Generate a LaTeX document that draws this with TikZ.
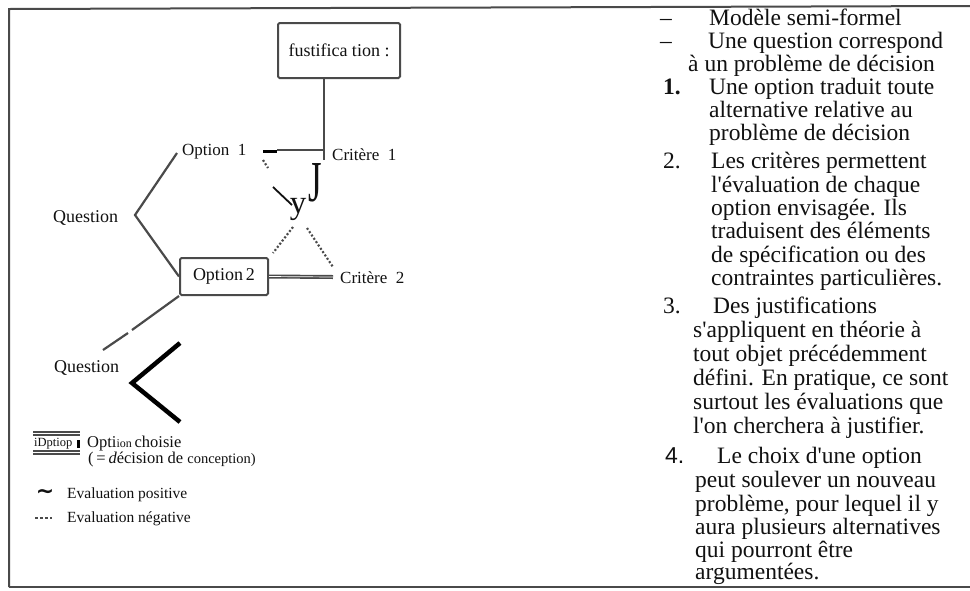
\documentclass[tikz,border=0pt]{standalone}
\usepackage{fontspec}
\setmainfont{Liberation Serif}[Ligatures=TeXOff]
\newfontfamily\sansf{Liberation Sans}
\newfontfamily\dejavu{DejaVu Sans}
\usepackage{graphicx}
\definecolor{lgray}{HTML}{4A4A4A}
\definecolor{ink}{HTML}{111111}
\begin{document}
\begin{tikzpicture}[x=1pt,y=-1pt,
  ln/.style={draw=lgray, line width=2.2pt},
  frame/.style={draw=lgray, line width=2pt},
  dotl/.style={draw=lgray, line width=2.2pt, dash pattern=on 2pt off 2pt},
  boxn/.style={draw=lgray, line width=2pt, rounded corners=1.5pt, inner sep=0pt, font=\fontsize{18}{18}\selectfont, text=ink},
  lbl/.style={font=\fontsize{17}{17}\selectfont, inner sep=0pt, anchor=base west, text=ink},
  lg/.style={font=\fontsize{15.5}{15.5}\selectfont, inner sep=0pt, anchor=base west, text=ink},
  rt/.style={font=\fontsize{23.5}{23.5}\selectfont, inner sep=0pt, anchor=base west, text=ink}]
\useasboundingbox (0,0) rectangle (970,590);
\fill[white] (0,0) rectangle (970,590);
% frame
\coordinate (fbl) at (9,587);
\coordinate (ftl) at (9,9);
\coordinate (ftr) at (970,6);
\coordinate (fbr) at (970,587);
\draw[frame] (fbl) -- (ftl) -- (ftr);
\draw[frame] (fbl) -- (fbr);

% justification box
\node[boxn, minimum width=122pt, minimum height=55pt] (just) at (339,50.5) {fustifica tion\ :};
\coordinate (jl) at (324,160);
\draw[ln] (just.south -| jl) -- (jl);

% option 1 / criterion 1
\node[lbl] (o1) at (182,155) {Option\ \ 1};
\node[lbl] (c1) at (332,160) {Critère\ \ 1};
\coordinate (d1) at (263,151);
\coordinate (d2) at (277,151);
\coordinate (c1w) at (325,150);
\draw[black, line width=3pt] (d1) -- (d2);
\draw[ln] (d2 |- c1w) -- (c1w);
\coordinate (t1) at (263,160);
\coordinate (t2) at (268,168);
\draw[dotl] (t1) -- (t2);

% question 1 bracket
\node[lbl, font=\fontsize{18}{18}\selectfont] (q1) at (53,222) {Question};
\coordinate (b1a) at (177,153);
\coordinate (b1m) at (135,215);

% option 2
\node[boxn, minimum width=88pt, minimum height=37pt] (o2) at (224,276.5) {Option\,2};
\draw[ln, line join=miter] (b1a) -- (b1m) -- (o2.west);
\node[lbl] (c2) at (340,283) {Critère\ \ 2};
\coordinate (c2l) at (333,277);
\draw[draw=lgray, line width=4pt] (o2.east) -- (c2l);
\draw[draw=white, line width=0.7pt] (o2.east) -- (c2l);

% hand marks
\node[inner sep=0pt, anchor=base, text=ink] (jj) at (315,201) {\fontsize{58}{58}\selectfont\scalebox{0.6}[1]{J}};
\node[inner sep=0pt, anchor=base, text=ink] (yy) at (298,213) {\fontsize{33}{33}\selectfont y};
\coordinate (s1) at (273,187);
\coordinate (s2) at (292,205);
\draw[ink, line width=1.8pt] (s1) -- (s2);
\coordinate (e1) at (293,227);
\coordinate (e2) at (273,253);
\coordinate (e3) at (307,228);
\coordinate (e4) at (333,267);
\draw[dotl] (e1) -- (e2);
\draw[dotl] (e3) -- (e4);

% question 2
\node[lbl, font=\fontsize{18}{18}\selectfont] (q2) at (54,372) {Question};
\coordinate (g1) at (132,330);
\coordinate (g2) at (128,333);
\coordinate (g3) at (103,350);
\draw[ln] (o2.south west) -- (g1);
\draw[ln] (g2) -- (g3);
\coordinate (k1) at (180,343);
\coordinate (k2) at (132,383);
\coordinate (k3) at (180,422);
\draw[black, line width=4.5pt, line join=miter] (k1) -- (k2) -- (k3);

% legend
\node[inner sep=0pt, anchor=base west, font=\fontsize{12.5}{12.5}\selectfont, text=ink] (lgbox) at (34,446) {iDptiop};
\coordinate (lb1) at (33,432);
\coordinate (lb2) at (80,432);
\coordinate (lb3) at (33,451);
\coordinate (lb4) at (80,451);
\draw[draw=lgray, line width=1.1pt] (lb1) -- (lb2);
\draw[draw=lgray, line width=1.1pt] ([yshift=-3pt]lb1) -- ([yshift=-3pt]lb2);
\draw[draw=lgray, line width=1.1pt] (lb3) -- (lb4);
\draw[draw=lgray, line width=1.1pt] ([yshift=-3pt]lb3) -- ([yshift=-3pt]lb4);
\coordinate (bar1) at (78,440);
\coordinate (bar2) at (78,448);
\draw[black, line width=3pt] (bar1) -- (bar2);
\node[lg, font=\fontsize{16.5}{16.5}\selectfont] (oc) at (87,447) {Opti{\fontsize{12}{12}\selectfont ion}\,choisie};
\node[lg, font=\fontsize{16.5}{16.5}\selectfont] (dc) at (88,463) {(\,=\,\textit{d}écision de {\fontsize{14.5}{14.5}\selectfont conception)}};
\node[inner sep=0pt, text=ink] (pos) at (45,494) {\dejavu\bfseries\fontsize{22}{22}\selectfont\textasciitilde};
\node[lg] (posl) at (67,498) {Evaluation positive};
\coordinate (n1) at (35,518);
\coordinate (n2) at (52,518);
\draw[draw=lgray, line width=2pt, dash pattern=on 3pt off 2pt] (n1) -- (n2);
\node[lg] (negl) at (67,522) {Evaluation négative};

% right column
\node[rt] (r1d) at (660,25) {–};
\node[rt] (r1) at (709,25) {Modèle semi-formel};
\node[rt] (r2d) at (660,48) {–};
\node[rt] (r2) at (708,48) {Une question correspond};
\node[rt] (r3) at (688,71) {à un problème de décision};
\node[rt] (n1l) at (663,94) {\textbf{1.}};
\node[rt] (r4) at (709,94) {Une option traduit toute};
\node[rt] (r5) at (709,117) {alternative relative au};
\node[rt] (r6) at (709,140) {problème de décision};
\node[rt] (n2l) at (663,168) {2.};
\node[rt] (r7) at (711,168) {Les critères permettent};
\node[rt] (r8) at (711,192) {l'évaluation de chaque};
\node[rt] (r9) at (711,215) {option envisagée. Ils};
\node[rt] (r10) at (711,238) {traduisent des éléments};
\node[rt] (r11) at (711,262) {de spécification ou des};
\node[rt] (r12) at (711,285) {contraintes particulières.};
\node[rt] (n3l) at (663,313) {3.};
\node[rt] (r13) at (713,313) {Des justifications};
\node[rt] (r14) at (693,337) {s'appliquent en théorie à};
\node[rt] (r15) at (693,361) {tout objet précédemment};
\node[rt] (r16) at (693,385) {défini. En pratique, ce sont};
\node[rt] (r17) at (693,409) {surtout les évaluations que};
\node[rt] (r18) at (693,433) {l'on cherchera à justifier.};
\node[rt, font=\sansf\fontsize{23}{23}\selectfont] (n4l) at (665,463) {4.};
\node[rt] (r19) at (717,463) {Le choix d'une option};
\node[rt] (r20) at (695,487) {peut soulever un nouveau};
\node[rt] (r21) at (695,511) {problème, pour lequel il y};
\node[rt] (r22) at (695,534) {aura plusieurs alternatives};
\node[rt] (r23) at (695,557) {qui pourront être};
\node[rt] (r24) at (695,579) {argumentées.};
\end{tikzpicture}
\end{document}
